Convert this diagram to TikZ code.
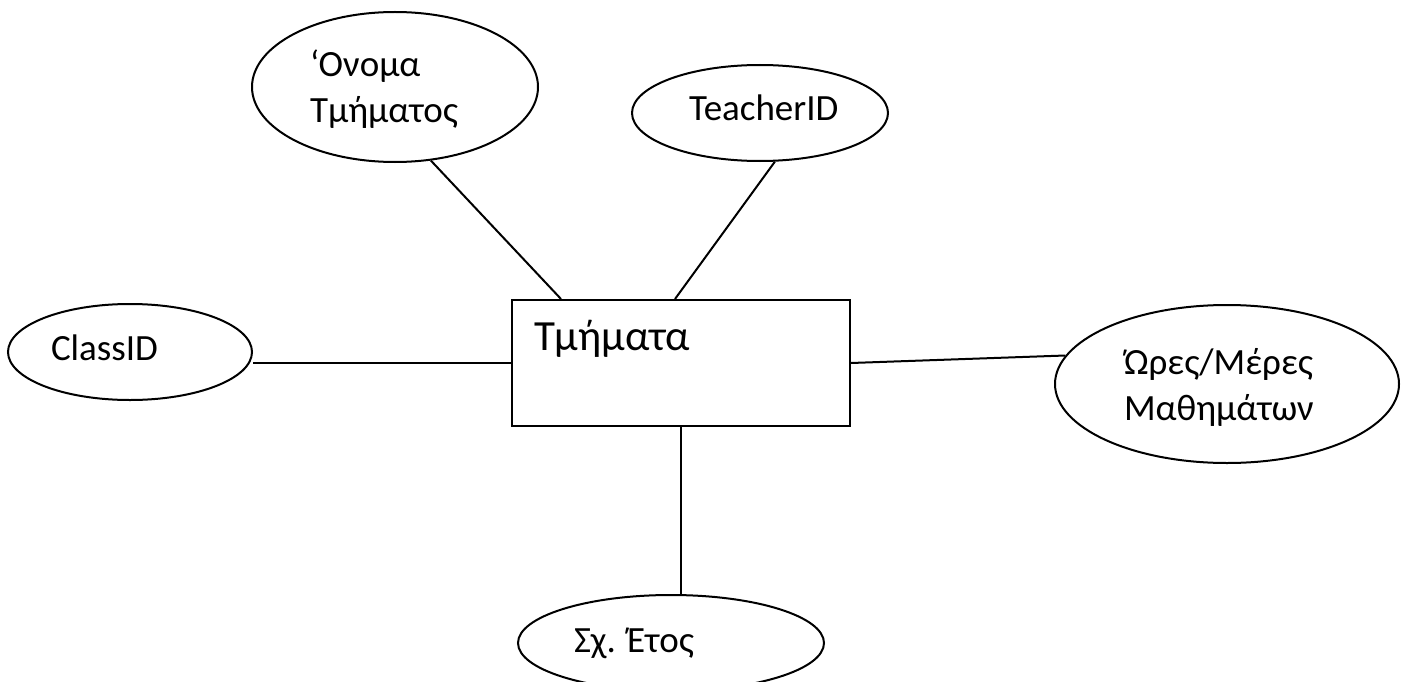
\documentclass[tikz,border=0pt]{standalone}
\usepackage{fontspec}
\setmainfont{Carlito}
\usetikzlibrary{shapes.geometric,calc}

\begin{document}
\begin{tikzpicture}[x=1pt,y=-1pt,line width=2pt,
	attr/.style={ellipse,draw,inner sep=0pt},
	entity/.style={rectangle,draw,inner sep=0pt},
	txt/.style={anchor=base west,inner sep=0pt,align=left,
		font=\fontsize{37}{46}\selectfont}]
	\useasboundingbox (0,0) rectangle (1407,682);

	% entity
	\node[entity,minimum width=338pt,minimum height=126pt] (tmimata) at (681,363) {};
	\node[txt,font=\fontsize{43}{46}\selectfont] (tmimata-t) at (533,350) {Τμήματα};

	% attributes
	\node[attr,minimum width=286pt,minimum height=150pt] (onoma) at (395,87) {};
	\node[attr,minimum width=256pt,minimum height=96pt] (teacher) at (760,113) {};
	\node[attr,minimum width=244pt,minimum height=96pt] (classid) at (130,352) {};
	\node[attr,minimum width=344pt,minimum height=158pt] (ores) at (1227,384) {};
	\node[attr,minimum width=306pt,minimum height=96pt] (etos) at (671,643) {};

	% last line sits on the given baseline
	\node[txt] (onoma-t) at (309,122) {‘Ονομα\\Τμήματος};
	\node[txt] (teacher-t) at (688,121) {TeacherID};
	\node[txt] (classid-t) at (50,360) {ClassID};
	\node[txt] (ores-t) at (1123,420) {Ώρες/Μέρες\\Μαθημάτων};
	\node[txt] (etos-t) at (573,652) {Σχ. Έτος};

	\draw (onoma.-64) -- ($(tmimata.north west)+(50,0)$);
	\draw (teacher.-73) -- ($(tmimata.north)+(-6,0)$);
	\draw (tmimata.west) -- (tmimata.west -| classid.east);
	\draw (tmimata.east) -- (ores.170);
	\draw (tmimata.south) -- (tmimata.south |- etos.north);
\end{tikzpicture}
\end{document}
